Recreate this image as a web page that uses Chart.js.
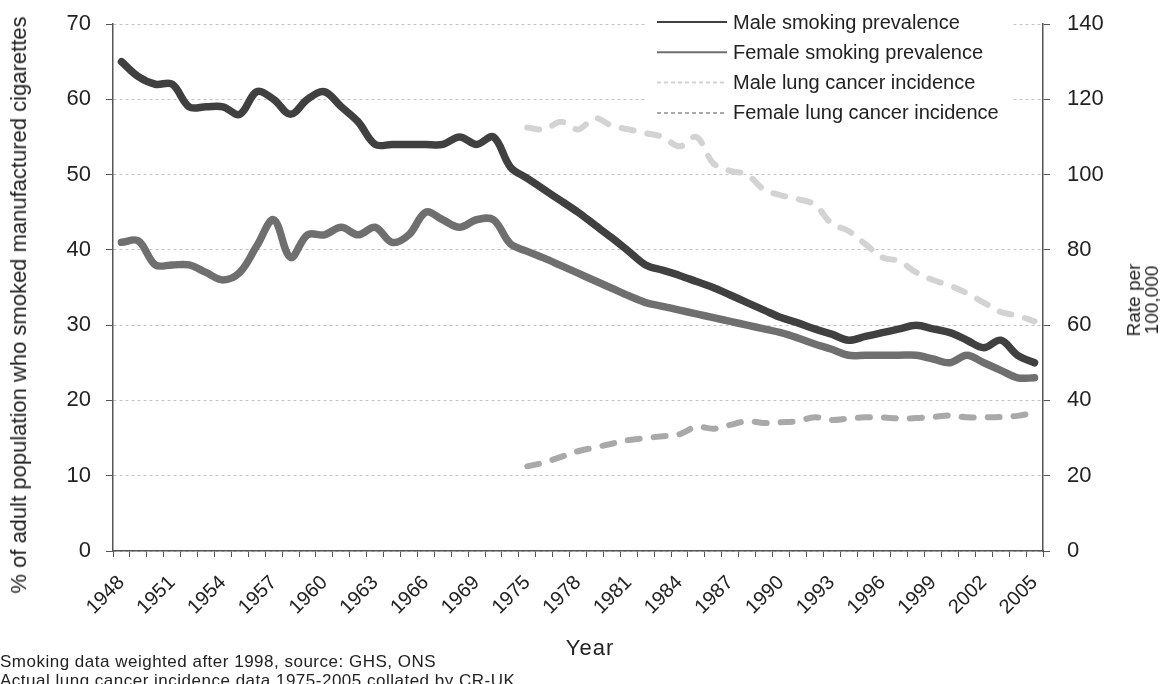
<!DOCTYPE html>
<html lang="en">
<head>
    <meta charset="UTF-8">
    <title>Smoking prevalence and lung cancer incidence</title>
    <style>
        body { margin: 0; background: #fff; }
        #wrap { position: relative; width: 1160px; height: 684px; overflow: hidden; font-family: "Liberation Sans", Arial, sans-serif; color: #222; }
        #note { position: absolute; left: 0; top: 652px; font-size: 17px; line-height: 19px; white-space: nowrap; letter-spacing: 0.5px; }
        .rot { position: absolute; transform: translate(-50%, -50%) rotate(-90deg); text-align: center; white-space: nowrap; }
        #ltitle { left: 19px; top: 305px; font-size: 22px; line-height: 24px; }
        #rtitle { left: 1143px; top: 300px; font-size: 19px; line-height: 18px; }
        #xtitle { position: absolute; left: 590px; top: 648px; transform: translate(-50%, -50%); font-size: 22px; letter-spacing: 1px; }
    </style>
</head>
<body>
    <div id="wrap">
        <canvas id="mychart" width="1160" height="684"></canvas>
        <div id="ltitle" class="rot">% of adult population who smoked manufactured cigarettes</div>
        <div id="rtitle" class="rot">Rate per<br>100,000</div>
        <div id="xtitle">Year</div>
        <div id="note">Smoking data weighted after 1998, source: GHS, ONS<br>Actual lung cancer incidence data 1975-2005 collated by CR-UK</div>
    </div>
    <script src="https://cdn.jsdelivr.net/npm/chart.js"></script>
    <script>
        // x categories (1970-74 only partly surveyed)
        const years = ['1948','1949','1950','1951','1952','1953','1954','1955','1956','1957',
                       '1958','1959','1960','1961','1962','1963','1964','1965','1966','1967',
                       '1968','1969','1970','1972','1975','1976','1977','1978','1979','1980',
                       '1981','1982','1983','1984','1985','1986','1987','1988','1989','1990',
                       '1991','1992','1993','1994','1995','1996','1997','1998','1999','2000',
                       '2001','2002','2003','2004','2005'];

        // % of adults smoking (left axis)
        const maleSmoking = [65,63,62,62,59,59,59,58,61,60,
                             58,60,61,59,57,54,54,54,54,54,
                             55,54,55,51,49.5,48,46.5,45,43.3,41.6,
                             39.8,38,37.3,36.6,35.8,35,34,33,32,31,
                             30.3,29.5,28.8,28,28.5,29,29.5,30,29.5,29,
                             28,27,28,26,25];
        const femaleSmoking = [41,41.2,38,38,38,37,36,37,40.5,44,
                               39,42,42,43,42,43,41,42,45,44,
                               43,44,44,40.8,39.8,38.9,37.9,36.9,35.9,34.9,
                               33.9,33,32.5,32,31.5,31,30.5,30,29.5,29,
                               28.3,27.5,26.8,26,26,26,26,26,25.5,25,
                               26,25,24,23,23];

        // lung cancer rate per 100,000 (right axis), from 1975
        const none = Array(24).fill(null);
        const maleLung = none.concat([112.5,112,114,112,115,113,112,111,110,107.5,
                                      110,103,101,100,96,94.5,93.5,92,87,85,
                                      81.5,78,77,74,72,70.5,68.5,66,63.5,62.5,61]);
        const femaleLung = none.concat([22.5,23.5,25,26.5,27.5,28.5,29.5,30,30.5,31,
                                        33,32.5,33.5,34.5,34,34.2,34.5,35.5,34.8,35.2,
                                        35.5,35.5,35.2,35.3,35.6,36,35.5,35.5,35.6,35.9,36.8]);

        const leftTicks = { min: 0, max: 70, step: 10 };
        const rightTicks = { min: 0, max: 140, step: 20 };

        Chart.defaults.font.family = '"Liberation Sans", Arial, sans-serif';
        Chart.defaults.color = '#222';

        // legend drawn inside the plot, top right, on a white box
        const insideLegend = {
            id: 'insideLegend',
            afterDraw(chart) {
                const ctx = chart.ctx;
                const area = chart.chartArea;
                const x0 = area.right - 386;
                const y0 = area.top - 2;
                ctx.save();
                ctx.fillStyle = '#fff';
                ctx.fillRect(x0 - 10, area.top - 16, 364, 120);
                ctx.font = '20px "Liberation Sans", Arial, sans-serif';
                ctx.textBaseline = 'middle';
                chart.data.datasets.forEach((ds, i) => {
                    const y = y0 + i * 30.3;
                    ctx.strokeStyle = ds.borderColor;
                    ctx.lineWidth = 2;
                    ctx.setLineDash(ds.borderDash ? [4, 3] : []);
                    ctx.beginPath();
                    ctx.moveTo(x0, y);
                    ctx.lineTo(x0 + 70, y);
                    ctx.stroke();
                    ctx.fillStyle = '#222';
                    ctx.fillText(ds.label, x0 + 76, y + 1);
                });
                ctx.restore();
            }
        };

        // y axes: keep the plot edges fixed, no extra room for end labels
        function fitY(width) {
            return function (s) {
                s.width = width;
                s.paddingTop = 0;
                s.paddingBottom = 0;
            };
        }

        const ctx = document.getElementById('mychart').getContext('2d');
        new Chart(ctx, {
            type: 'line',
            data: {
                labels: years,
                datasets: [
                    { label: 'Male smoking prevalence', data: maleSmoking, yAxisID: 'y',
                      borderColor: '#404040', borderWidth: 7.5 },
                    { label: 'Female smoking prevalence', data: femaleSmoking, yAxisID: 'y',
                      borderColor: '#6f6f6f', borderWidth: 7.5 },
                    { label: 'Male lung cancer incidence', data: maleLung, yAxisID: 'y1',
                      borderColor: '#d3d3d3', borderWidth: 6, borderDash: [12, 14] },
                    { label: 'Female lung cancer incidence', data: femaleLung, yAxisID: 'y1',
                      borderColor: '#a9a9a9', borderWidth: 6, borderDash: [12, 14] }
                ]
            },
            options: {
                responsive: false,
                animation: false,
                devicePixelRatio: 1,
                layout: { padding: { top: 24, left: 0, right: 0, bottom: 0 } },
                elements: {
                    point: { radius: 0 },
                    line: { tension: 0.35, borderCapStyle: 'round', borderJoinStyle: 'round', fill: false }
                },
                plugins: { legend: { display: false }, tooltip: { enabled: false } },
                scales: {
                    x: {
                        offset: true,
                        grid: { display: true, drawOnChartArea: false, offset: true, tickLength: 6, tickColor: '#555' },
                        border: { color: '#555', width: 1.5 },
                        ticks: {
                            autoSkip: false, maxRotation: 45, minRotation: 45, padding: 14,
                            font: { size: 20 }, color: '#222',
                            callback(v, i) { return i % 3 === 0 ? years[i] : ''; }
                        },
                        afterFit(s) { s.height = 133; s.paddingLeft = 0; s.paddingRight = 0; }
                    },
                    y: {
                        position: 'left',
                        min: leftTicks.min, max: leftTicks.max,
                        grid: { color: '#c4c4c4', tickLength: 7, tickColor: '#555' },
                        border: { color: '#555', width: 1.5, dash: [3, 3] },
                        ticks: { stepSize: leftTicks.step, padding: 15, font: { size: 22 }, color: '#222' },
                        afterFit: fitY(113)
                    },
                    y1: {
                        position: 'right',
                        min: rightTicks.min, max: rightTicks.max,
                        grid: { drawOnChartArea: false, tickLength: 7, tickColor: '#555' },
                        border: { color: '#555', width: 1.5 },
                        ticks: { stepSize: rightTicks.step, padding: 17, font: { size: 22 }, color: '#222' },
                        afterFit: fitY(117)
                    }
                }
            },
            plugins: [insideLegend]
        });
    </script>
</body>
</html>
